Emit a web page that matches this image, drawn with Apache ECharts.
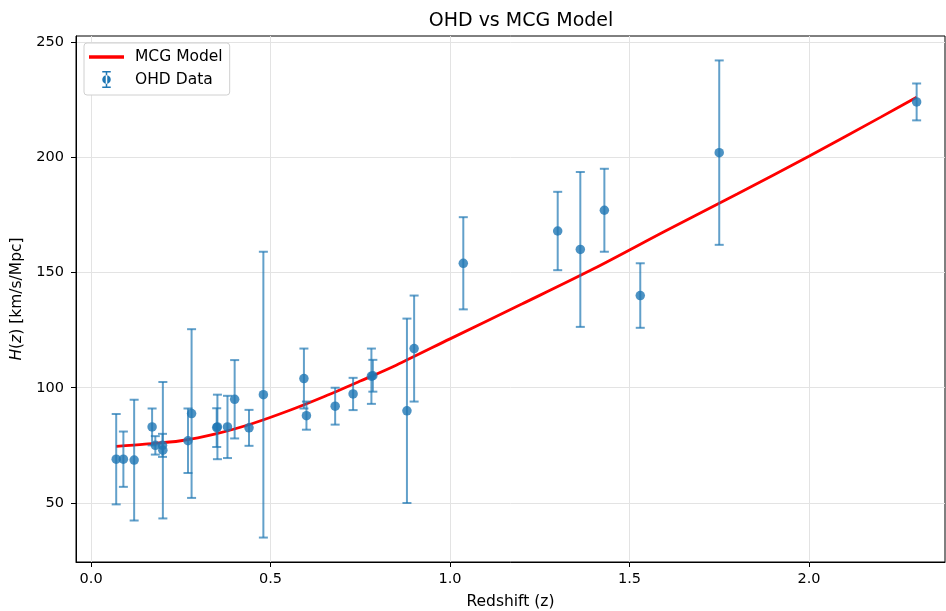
<!DOCTYPE html>
<html>
<head>
<meta charset="utf-8">
<script src="https://cdn.jsdelivr.net/npm/echarts@6/dist/echarts.min.js"></script>
<style>
  html, body { margin: 0; padding: 0; background: #fff; }
  #chart { width: 946px; height: 611px; }
</style>
</head>
<body>
<div id="chart"></div>
<script>
// OHD measurements: redshift, H(z), 1-sigma error
const ohdZ = [0.07, 0.09, 0.12, 0.17, 0.179, 0.199, 0.2, 0.27, 0.28, 0.352, 0.35, 0.38, 0.4, 0.44, 0.48,
  0.593, 0.6, 0.68, 0.73, 0.781, 0.785, 0.88, 0.9, 1.037, 1.3, 1.363, 1.43, 1.53, 1.75, 2.3]
const ohdH = [69, 69, 68.6, 83, 75, 75, 72.9, 77, 88.8, 83, 82.7, 83, 95, 82.6, 97,
  104, 87.9, 92, 97.3, 105, 105.2, 90, 117, 154, 168, 160, 177, 140, 202, 224]
const ohdErr = [19.6, 12, 26.2, 8, 4, 5, 29.6, 14, 36.6, 14, 8.4, 13.5, 17, 7.8, 62,
  13, 6.1, 8, 7, 12, 6.9, 40, 23, 20, 17, 33.6, 18, 14, 40, 8]

// MCG model curve
const modelZ = [0.07, 0.15, 0.25, 0.35, 0.45, 0.55, 0.65, 0.75, 0.85, 1.0, 1.2, 1.4, 1.6, 1.8, 2.0, 2.2, 2.3]
const modelH = [74.6, 75.5, 77.0, 80.1, 84.5, 90.0, 96.2, 102.9, 109.8, 121.2, 136.3, 151.6, 168.0, 184.1, 200.4, 217.4, 226.0]

// tick labels
const xTicks = [0, 0.5, 1.0, 1.5, 2.0]
const yTicks = [50, 100, 150, 200, 250]

const FONT = 'DejaVu Sans'
const BLUE = '#1f77b4'

function renderErrorBar(params, api) {
    const x = api.value(0)
    const y = api.value(1)
    const e = api.value(2)
    const top = api.coord([x, y + e])
    const bot = api.coord([x, y - e])
    const cap = 4.5
    const style = {stroke: BLUE, lineWidth: 2, opacity: 0.7}
    return {
        type: 'group',
        children: [
            {type: 'line', shape: {x1: top[0], y1: top[1], x2: bot[0], y2: bot[1]}, style: style},
            {type: 'line', shape: {x1: top[0] - cap, y1: top[1], x2: top[0] + cap, y2: top[1]}, style: style},
            {type: 'line', shape: {x1: bot[0] - cap, y1: bot[1], x2: bot[0] + cap, y2: bot[1]}, style: style},
        ]
    }
}

const errIcon = 'path://M3,0h10v1.8h-10z M7.1,0h1.8v20h-1.8z M3,18.2h10v1.8h-10z M8,5a5,5 0 1,0 0.001,0z'

const options = {
    animation: false,
    backgroundColor: '#fff',
    textStyle: {fontFamily: FONT},
    title: {
        text: 'OHD vs MCG Model',
        left: 516,
        top: 7,
        textAlign: 'center',
        textStyle: {fontFamily: FONT, fontSize: 19, fontWeight: 'normal', color: '#000'}
    },
    legend: {
        orient: 'vertical',
        left: 84,
        top: 43,
        padding: [6, 7, 7, 5],
        itemGap: 6,
        itemWidth: 35,
        itemHeight: 17,
        backgroundColor: '#fff',
        borderColor: '#d0d0d0',
        borderWidth: 1,
        borderRadius: 3,
        textStyle: {fontFamily: FONT, fontSize: 15.5, color: '#000', padding: [0, 0, 0, 6]},
        data: [
            {name: 'MCG Model', icon: 'path://M0,0h32v3h-32z'},
            {name: 'OHD Data', icon: errIcon}
        ]
    },
    grid: {
        left: 76, right: 1, top: 36, bottom: 49,
        containLabel: false,
        outerBoundsMode: 'none',
        show: true, borderColor: '#000', borderWidth: 1
    },
    xAxis: {
        type: 'value',
        min: -0.042,
        max: 2.379,
        name: 'Redshift (z)',
        nameLocation: 'middle',
        nameGap: 32,
        nameTextStyle: {fontFamily: FONT, fontSize: 15.5, color: '#000'},
        axisLine: {show: true, onZero: false, lineStyle: {color: '#000', width: 1}},
        axisTick: {show: true, length: 5, lineStyle: {color: '#000'}, customValues: xTicks},
        axisLabel: {
            fontFamily: FONT, fontSize: 14.5, color: '#000', margin: 10,
            customValues: xTicks,
            formatter: v => v.toFixed(1)
        },
        splitLine: {show: true, lineStyle: {color: '#e3e3e3', width: 1}}
    },
    yAxis: {
        type: 'value',
        min: 24.4,
        max: 252.6,
        name: '{i|H}({i|z}) [km/s/Mpc]',
        nameLocation: 'middle',
        nameGap: 44,
        nameTextStyle: {
            fontFamily: FONT, fontSize: 15.5, color: '#000',
            rich: {i: {fontFamily: FONT, fontSize: 15.5, fontStyle: 'italic', color: '#000'}}
        },
        axisLine: {show: true, onZero: false, lineStyle: {color: '#000', width: 1}},
        axisTick: {show: true, length: 5, lineStyle: {color: '#000'}, customValues: yTicks},
        axisLabel: {fontFamily: FONT, fontSize: 14.5, color: '#000', margin: 12, customValues: yTicks},
        splitLine: {show: true, lineStyle: {color: '#e3e3e3', width: 1}}
    },
    series: [
        {
            name: 'MCG Model',
            type: 'line',
            data: modelZ.map((z, i) => [z, modelH[i]]),
            smooth: 0.3,
            showSymbol: false,
            symbol: 'none',
            lineStyle: {color: 'red', width: 2.8},
            itemStyle: {color: 'red'},
            z: 2
        },
        {
            name: 'OHD Data',
            type: 'custom',
            renderItem: renderErrorBar,
            data: ohdZ.map((z, i) => [z, ohdH[i], ohdErr[i]]),
            encode: {x: 0, y: 1},
            itemStyle: {color: BLUE},
            z: 3
        },
        {
            name: 'OHD Data',
            type: 'scatter',
            data: ohdZ.map((z, i) => [z, ohdH[i]]),
            symbolSize: 9.5,
            itemStyle: {color: BLUE, opacity: 0.8},
            z: 4
        }
    ]
}

echarts.init(document.getElementById('chart')).setOption(options)
</script>
</body>
</html>
